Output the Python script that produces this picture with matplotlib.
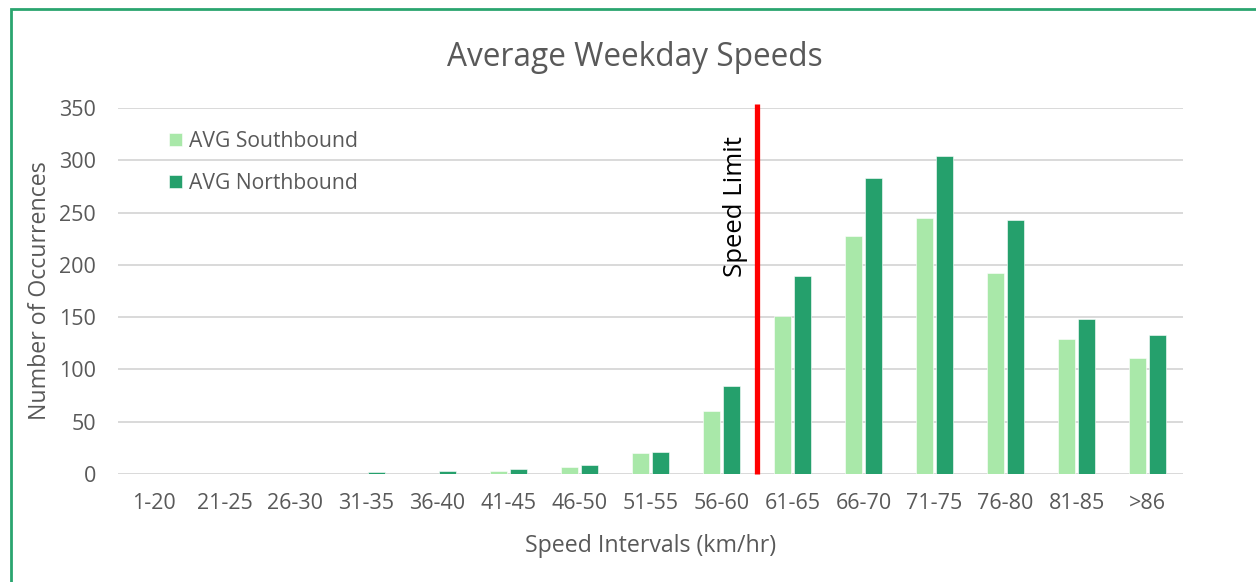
import matplotlib
matplotlib.use("Agg")
import matplotlib.pyplot as plt
from matplotlib.patches import Rectangle
import numpy as np

categories = ["1-20", "21-25", "26-30", "31-35", "36-40", "41-45", "46-50", "51-55",
              "56-60", "61-65", "66-70", "71-75", "76-80", "81-85", ">86"]
southbound = [0, 0, 0, 0, 0, 2.4, 6.3, 20, 60.5, 151, 228, 245, 192, 129, 111]
northbound = [0, 0, 0, 1.5, 3, 5, 9, 21.5, 84, 189, 283, 304, 243, 148, 133]
speed_limit_pos = 8.5
speed_limit_top = 354

plt.rcParams['font.family'] = ['Open Sans', 'DejaVu Sans']
txt = '#595959'

fig = plt.figure(figsize=(12.56, 5.82), dpi=100)
ax = fig.add_axes([118/1256, 108/582, (1183-118)/1256, (474-108)/582])

x = np.arange(len(categories))
w = 0.235
off = 0.145
ax.bar(x - off, southbound, w, color='#A9E8A9', edgecolor='white', linewidth=0.4,
       label='AVG Southbound', zorder=3)
ax.bar(x + off, northbound, w, color='#25A06C', edgecolor='white', linewidth=0.4,
       label='AVG Northbound', zorder=3)

ax.set_xlim(-0.5, len(categories) - 0.5)
ax.set_ylim(0, 350)
ax.set_yticks(range(0, 351, 50))
ax.set_xticks(x)
ax.set_xticklabels(categories)
ax.grid(axis='y', color='#D9D9D9', linewidth=1.4, zorder=0)
ax.set_axisbelow(True)
for s in ax.spines.values():
    s.set_visible(False)
ax.tick_params(axis='both', length=0, labelsize=15.5, labelcolor=txt)
ax.tick_params(axis='x', pad=14)
ax.tick_params(axis='y', pad=16)

ax.plot([speed_limit_pos, speed_limit_pos], [0, speed_limit_top], color='#FF0000',
        linewidth=3.8, clip_on=False, zorder=4, solid_capstyle='butt')
ax.text(speed_limit_pos - 0.12, 256, 'Speed Limit', rotation=90, ha='right', va='center',
        fontsize=18.5, color='black')

fig.text(635/1256, 1 - 58/582, 'Average Weekday Speeds', fontsize=22.8, color=txt,
         ha='center', va='center')
ax.set_ylabel('Number of Occurrences', fontsize=16.7, color=txt, labelpad=4.7)
ax.set_xlabel('Speed Intervals (km/hr)', fontsize=16.7, color=txt, labelpad=14)

leg = ax.legend(loc='upper left', bbox_to_anchor=(0.03, 0.99), frameon=False,
                fontsize=15.2, labelcolor=txt, handlelength=0.6, handleheight=0.6,
                handletextpad=0.35, labelspacing=1.0)

fig.patches.append(Rectangle((11/1256, -0.1), 1.2, (582-9)/582 + 0.1, transform=fig.transFigure,
                             fill=False, edgecolor='#2AA56F', linewidth=2, zorder=10))

fig.savefig('out.png', dpi=100)
